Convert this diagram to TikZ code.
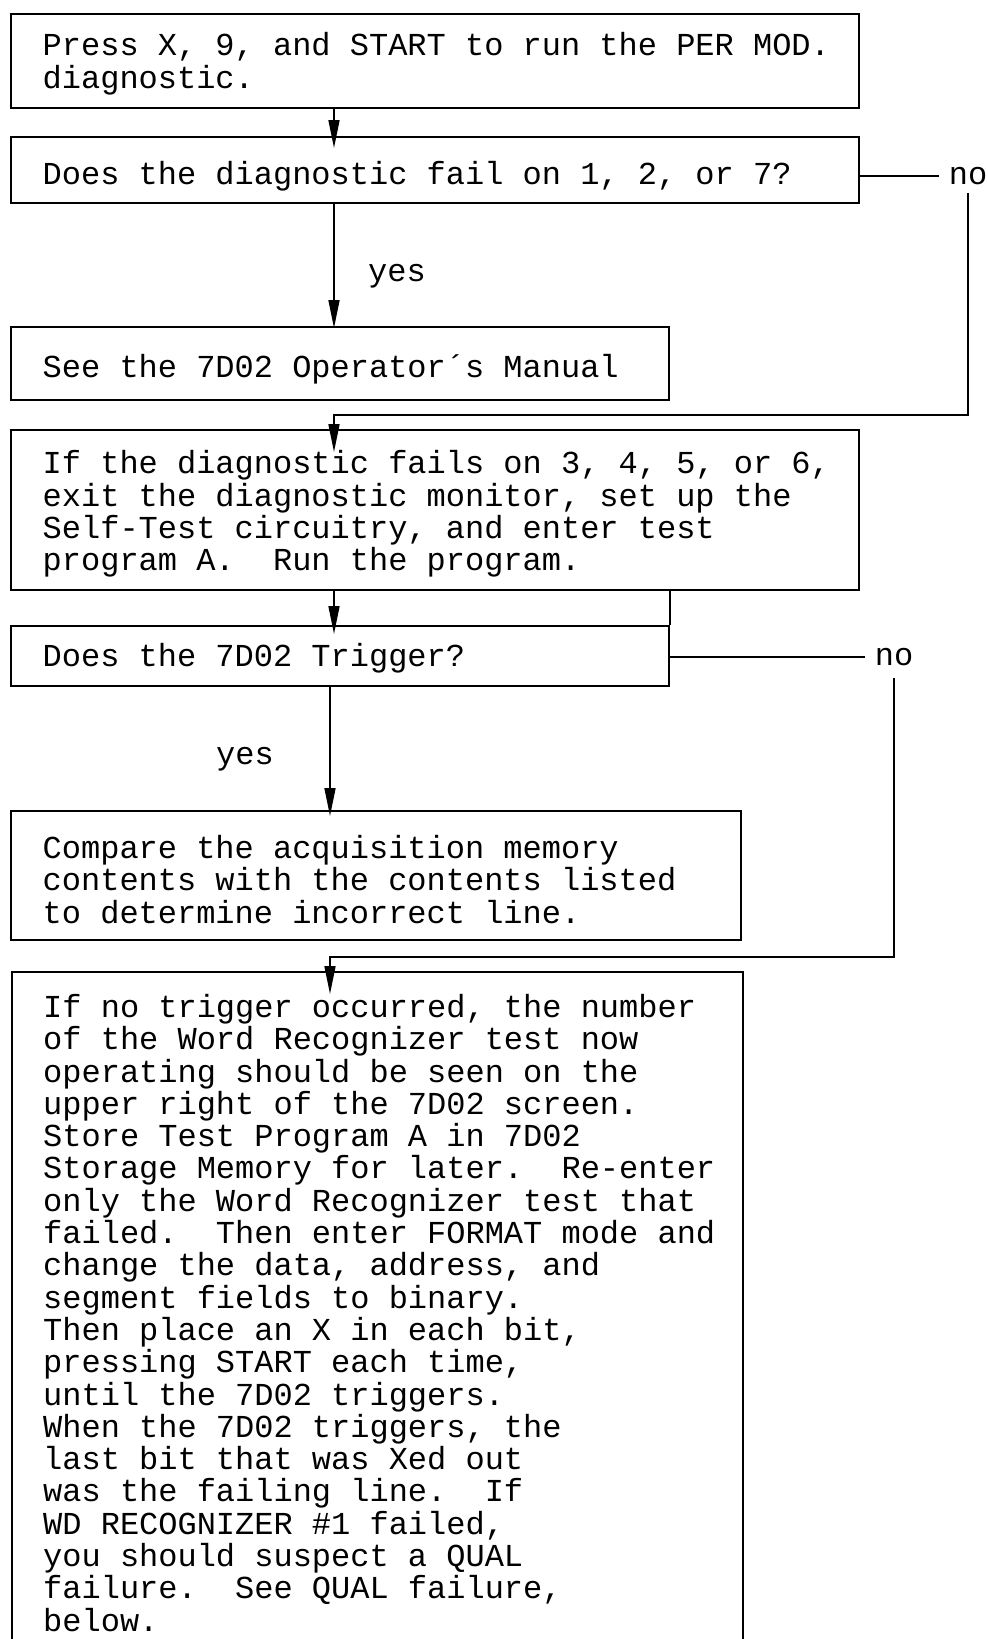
\documentclass[tikz,border=0pt]{standalone}
\usepackage{fontspec}
\newfontfamily\cour{Liberation Mono}
\usetikzlibrary{arrows.meta,calc}
\begin{document}
\begin{tikzpicture}[x=1pt,y=-1pt,
 box/.style={draw, line width=2pt, inner sep=0pt, anchor=north west},
 txt/.style={font=\cour\fontsize{32}{32.3}\selectfont, align=left, inner sep=0pt},
 arr/.style={line width=1.6pt, -{Triangle[length=28pt,width=11pt]}},
 ln/.style={line width=1.6pt}]
\fill[white] (0,0) rectangle (988,1639);
\useasboundingbox (0,0) rectangle (988,1639);
% boxes
\node[box, minimum width=848.5pt, minimum height=94.3pt] (b1) at (9.5,12.7) {};
\node[box, minimum width=848.5pt, minimum height=66pt] (b2) at (9.5,136) {};
\node[box, minimum width=658.5pt, minimum height=73pt] (b3) at (9.5,326) {};
\node[box, minimum width=848.5pt, minimum height=160pt] (b4) at (9.5,429) {};
\node[box, minimum width=658.5pt, minimum height=60pt] (b5) at (9.5,625) {};
\node[box, minimum width=730.5pt, minimum height=129pt] (b6) at (9.5,810) {};
\node[box, minimum width=731pt, minimum height=740pt] (b7) at (11,971) {};
% texts
\node[txt, anchor=west] (t1) at ([xshift=33pt,yshift=-3pt]b1.west) {Press X, 9, and START to run the PER MOD.\\diagnostic.};
\node[txt, anchor=west] (t2) at ([xshift=33pt,yshift=-6pt]b2.west) {Does the diagnostic fail on 1, 2, or 7?};
\node[txt, anchor=west] (t3) at ([xshift=33pt,yshift=-6pt]b3.west) {See the 7D02 Operator´s Manual};
\node[txt, anchor=west] (t4) at ([xshift=33pt,yshift=-4pt]b4.west) {If the diagnostic fails on 3, 4, 5, or 6,\\exit the diagnostic monitor, set up the\\Self-Test circuitry, and enter test\\program A.\ \ Run the program.};
\node[txt, anchor=west] (t5) at ([xshift=33pt,yshift=-2pt]b5.west) {Does the 7D02 Trigger?};
\node[txt, anchor=west] (t6) at ([xshift=33pt,yshift=-4pt]b6.west) {Compare the acquisition memory\\contents with the contents listed\\to determine incorrect line.};
\node[txt, anchor=north west] (t7) at ([xshift=32pt,yshift=-23pt]b7.north west) {If no trigger occurred, the number\\of the Word Recognizer test now\\operating should be seen on the\\upper right of the 7D02 screen.\\Store Test Program A in 7D02\\Storage Memory for later.\ \ Re-enter\\only the Word Recognizer test that\\failed.\ \ Then enter FORMAT mode and\\change the data, address, and\\segment fields to binary.\\Then place an X in each bit,\\pressing START each time,\\until the 7D02 triggers.\\When the 7D02 triggers, the\\last bit that was Xed out\\was the failing line.\ \ If\\WD RECOGNIZER \#1 failed,\\you should suspect a QUAL\\failure.\ \ See QUAL failure,\\below.};
% labels
\node[txt] (yes1) at (397,276) {yes};
\node[txt] (yes2) at (245,759) {yes};
\node[txt, inner xsep=10pt] (no1) at (968,176) {no};
\node[txt, inner xsep=10pt] (no2) at (894,657) {no};
% connectors
\coordinate (ax1) at (334,0);
\coordinate (ax2) at (330,0);
\coordinate (j1) at (334,415);
\coordinate (j2) at (330,957);
\draw[arr, shorten >=-12pt] (b1.south -| ax1) -- (b2.north -| ax1);
\draw[arr, shorten >=-2pt] (b2.south -| ax1) -- (b3.north -| ax1);
\draw[ln] (b2.east |- no1.west) -- (no1.west);
\draw[arr, shorten >=-23pt] ([yshift=-8pt]no1.south) |- (j1) -- (b4.north -| j1);
\draw[arr, shorten >=-9pt] (b4.south -| ax1) -- (b5.north -| ax1);
\draw[line width=2pt] (b5.north east) -- (b4.south -| b5.north east);
\draw[arr, shorten >=-6pt] (b5.south -| ax2) -- (b6.north -| ax2);
\draw[ln] (b5.east |- no2.west) -- (no2.west);
\draw[arr, shorten >=-23pt] ([yshift=-12pt]no2.south) |- (j2) -- (b7.north -| j2);
\end{tikzpicture}
\end{document}
